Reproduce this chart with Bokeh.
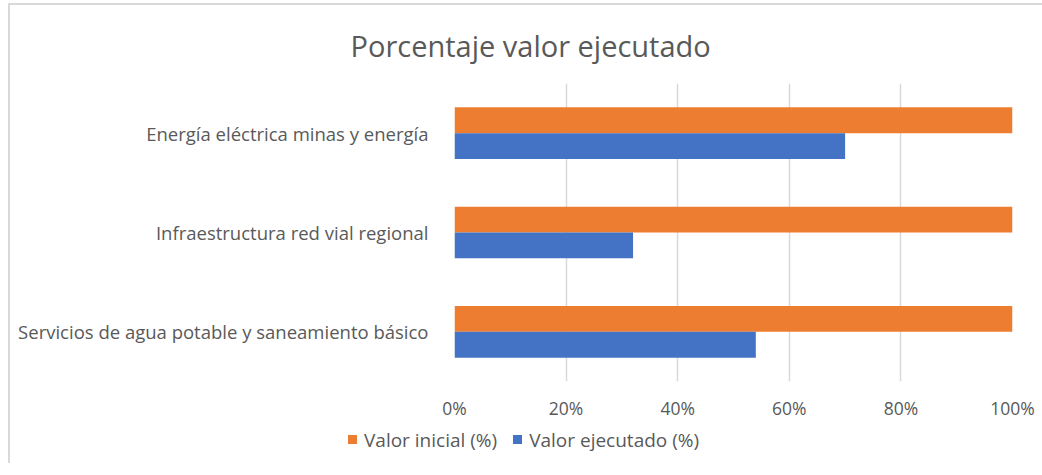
from bokeh.plotting import figure
from bokeh.layouts import column
from bokeh.models import (FactorRange, Range1d, FixedTicker, PrintfTickFormatter,
                          ColumnDataSource, Title, Div)
from bokeh.transform import dodge
from bokeh.embed import file_html
from bokeh.resources import INLINE

categories = ["Energía eléctrica minas y energía",
              "Infraestructura red vial regional",
              "Servicios de agua potable y saneamiento básico"]
valor_inicial = [100, 100, 100]
valor_ejecutado = [70, 32, 54]
x_ticks = [0, 20, 40, 60, 80, 100]
title_text = "Porcentaje valor ejecutado"
series_names = ["Valor inicial (%)", "Valor ejecutado (%)"]
series_colors = ["#ED7D31", "#4472C4"]

FONT = "Open Sans"
GREY = "#595959"

src = ColumnDataSource(dict(cat=categories, ini=valor_inicial, eje=valor_ejecutado))

p = figure(width=1032, height=418, output_backend="svg", toolbar_location=None,
           y_range=FactorRange(factors=list(reversed(categories))),
           x_range=Range1d(0, 100),
           min_border_left=444, min_border_right=30, min_border_top=77, min_border_bottom=42,
           background_fill_color="white", border_fill_color="white", outline_line_color=None)

p.hbar(y=dodge("cat", 0.13, range=p.y_range), right="ini", left=0, height=0.26,
       source=src, fill_color=series_colors[0], line_color=None, legend_label=series_names[0])
p.hbar(y=dodge("cat", -0.13, range=p.y_range), right="eje", left=0, height=0.26,
       source=src, fill_color=series_colors[1], line_color=None, legend_label=series_names[1])
p.legend.visible = False

p.xaxis.ticker = FixedTicker(ticks=x_ticks)
p.xaxis.formatter = PrintfTickFormatter(format="%d%%")
for ax in (p.xaxis[0], p.yaxis[0]):
    ax.axis_line_color = None
    ax.major_tick_line_color = None
    ax.minor_tick_line_color = None
    ax.major_label_text_font = FONT
    ax.major_label_text_color = GREY
p.xaxis.major_label_text_font_size = "17.5px"
p.yaxis.major_label_text_font_size = "18.5px"
p.xaxis.major_label_standoff = 8
p.yaxis.major_label_standoff = 20

p.xgrid.grid_line_color = "#d9d9d9"
p.xgrid.grid_line_width = 1.5
p.ygrid.grid_line_color = None

t = Title(text=title_text, align="left", offset=-104, text_font=FONT, text_font_size="29px",
          text_font_style="normal", text_color=GREY, standoff=37)
p.add_layout(t, "above")

# legend row below the chart
items_html = ""
for i, (name, col) in enumerate(zip(series_names, series_colors)):
    gap = "margin-left:16px;" if i > 0 else ""
    items_html += (f'<span style="display:inline-block;width:9px;height:9px;background:{col};'
                   f'margin-right:7px;vertical-align:middle;{gap}"></span>'
                   f'<span style="vertical-align:middle;">{name}</span>')
legend_div = Div(text=items_html, width=1032, height=30,
                 styles={"font-family": FONT, "font-size": "19px", "color": GREY,
                         "white-space": "nowrap", "line-height": "20px",
                         "padding-left": "333px", "box-sizing": "border-box"})

layout = column(p, legend_div, spacing=0)
layout.styles = {"border-left": "2px solid #d9d9d9", "border-top": "2px solid #d9d9d9",
                 "margin-left": "8px", "margin-top": "3px"}

open("out.html", "w").write(file_html(layout, INLINE))
